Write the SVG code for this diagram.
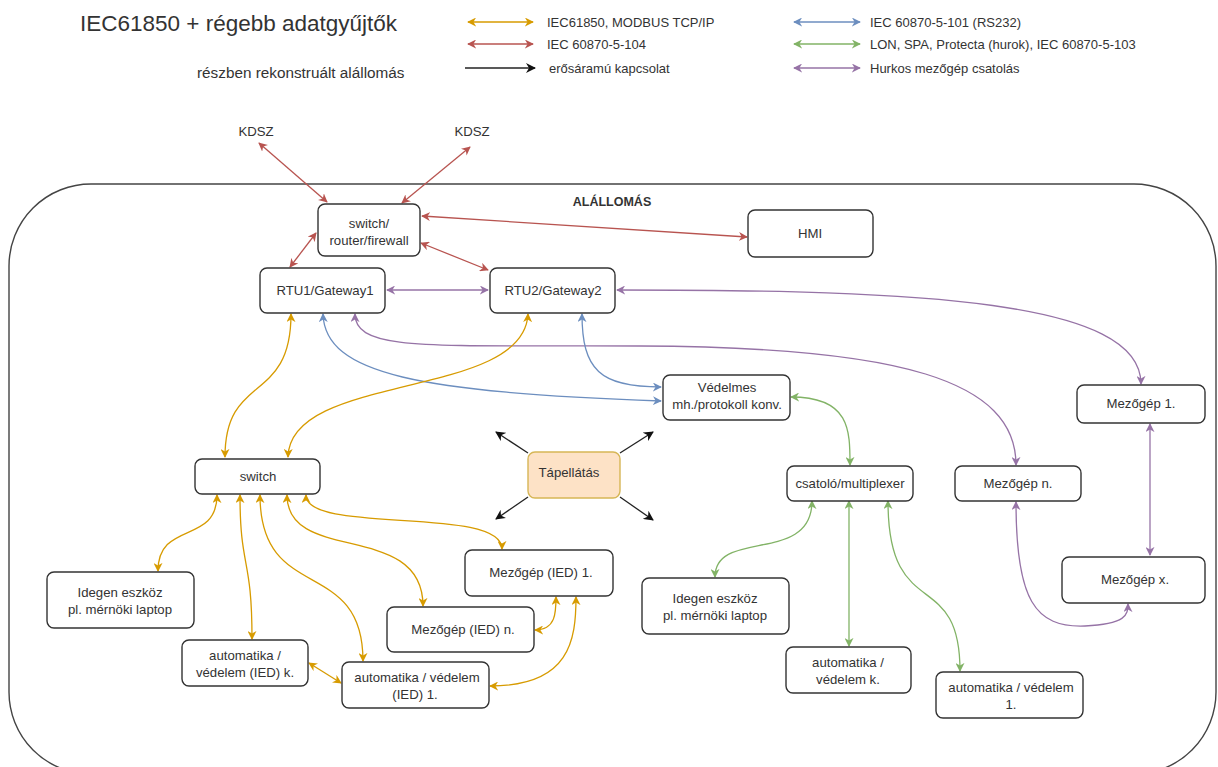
<svg xmlns="http://www.w3.org/2000/svg" width="1218" height="767" viewBox="0 0 1218 767">
  <style>
    .t { font-family: "Liberation Sans", Arial, sans-serif; fill: #333; }
    .lbl { font-size: 13.2px; text-anchor: middle; }
    .leg { font-size: 13px; }
    .box { fill: #fff; stroke: #333; stroke-width: 1.4; }
    .c { fill: none; stroke-width: 1.3; }
    .y { stroke: #d79b00; marker-start: url(#aY); marker-end: url(#aY); }
    .r { stroke: #b85450; marker-start: url(#aR); marker-end: url(#aR); }
    .b { stroke: #6c8ebf; marker-start: url(#aB); marker-end: url(#aB); }
    .g { stroke: #82b366; marker-start: url(#aG); marker-end: url(#aG); }
    .p { stroke: #9673a6; marker-start: url(#aP); marker-end: url(#aP); }
    .k { stroke: #222; marker-end: url(#aK); }
  </style>
  <defs>
    <marker id="aY" viewBox="0 0 10 10" refX="9" refY="5" markerWidth="9" markerHeight="9" markerUnits="userSpaceOnUse" orient="auto-start-reverse"><path d="M0,0 L10,5 L0,10 L3,5 z" fill="#d79b00"/></marker>
    <marker id="aR" viewBox="0 0 10 10" refX="9" refY="5" markerWidth="9" markerHeight="9" markerUnits="userSpaceOnUse" orient="auto-start-reverse"><path d="M0,0 L10,5 L0,10 L3,5 z" fill="#b85450"/></marker>
    <marker id="aB" viewBox="0 0 10 10" refX="9" refY="5" markerWidth="9" markerHeight="9" markerUnits="userSpaceOnUse" orient="auto-start-reverse"><path d="M0,0 L10,5 L0,10 L3,5 z" fill="#6c8ebf"/></marker>
    <marker id="aG" viewBox="0 0 10 10" refX="9" refY="5" markerWidth="9" markerHeight="9" markerUnits="userSpaceOnUse" orient="auto-start-reverse"><path d="M0,0 L10,5 L0,10 L3,5 z" fill="#82b366"/></marker>
    <marker id="aP" viewBox="0 0 10 10" refX="9" refY="5" markerWidth="9" markerHeight="9" markerUnits="userSpaceOnUse" orient="auto-start-reverse"><path d="M0,0 L10,5 L0,10 L3,5 z" fill="#9673a6"/></marker>
    <marker id="aK" viewBox="0 0 10 10" refX="9" refY="5" markerWidth="10" markerHeight="10" markerUnits="userSpaceOnUse" orient="auto-start-reverse"><path d="M0,0 L10,5 L0,10 L3,5 z" fill="#111"/></marker>
  </defs>

  <rect width="1218" height="767" fill="#fff"/>

  <!-- headings -->
  <text class="t" x="80" y="31" font-size="22.5">IEC61850 + régebb adatgyűjtők</text>
  <text class="t" x="197" y="78" font-size="15.3">részben rekonstruált alállomás</text>

  <!-- legend -->
  <g id="legend">
    <line class="c y" x1="468" y1="22" x2="533" y2="22"/>
    <line class="c r" x1="468" y1="44" x2="533" y2="44"/>
    <line class="c k" x1="465" y1="68" x2="535" y2="68"/>
    <text class="t leg" x="547" y="26.5">IEC61850, MODBUS TCP/IP</text>
    <text class="t leg" x="547" y="48.5">IEC 60870-5-104</text>
    <text class="t leg" x="549" y="72.5">erősáramú kapcsolat</text>
    <line class="c b" x1="794" y1="22" x2="860" y2="22"/>
    <line class="c g" x1="794" y1="44" x2="860" y2="44"/>
    <line class="c p" x1="794" y1="68" x2="860" y2="68"/>
    <text class="t leg" x="870" y="26.5">IEC 60870-5-101 (RS232)</text>
    <text class="t leg" x="870" y="48.5">LON, SPA, Protecta (hurok), IEC 60870-5-103</text>
    <text class="t leg" x="870" y="72.5">Hurkos mezőgép csatolás</text>
  </g>

  <!-- substation boundary -->
  <g id="alallomas">
    <rect x="9" y="184" width="1207" height="590" rx="82" ry="82" fill="none" stroke="#444" stroke-width="1.4"/>
    <text class="t" x="612" y="206" font-size="12.5" font-weight="bold" text-anchor="middle">ALÁLLOMÁS</text>
  </g>

  <g id="kdsz1"><text class="t lbl" x="256" y="136" font-size="14.5">KDSZ</text></g>
  <g id="kdsz2"><text class="t lbl" x="472" y="136" font-size="14.5">KDSZ</text></g>

  <!-- connectors -->
  <g id="connectors">
    <!-- IEC 60870-5-104 -->
    <line class="c r" x1="259" y1="143" x2="327" y2="202"/>
    <line class="c r" x1="470" y1="147" x2="402" y2="203"/>
    <line class="c r" x1="422" y1="216" x2="747" y2="237"/>
    <line class="c r" x1="316" y1="233" x2="290" y2="267"/>
    <line class="c r" x1="421" y1="243" x2="488" y2="270"/>

    <!-- hurkos mezőgép csatolás -->
    <line class="c p" x1="387" y1="290" x2="488" y2="290"/>
    <path class="c p" d="M617,290 C920,290 1141,300 1141,384"/>
    <path class="c p" d="M355,314 C355,352 430,345 640,346 C900,347 1016,380 1016,465"/>
    <line class="c p" x1="1150" y1="424" x2="1150" y2="555"/>
    <path class="c p" d="M1016,502 C1016,600 1035,628 1085,626 C1126,624 1128,615 1128,604"/>

    <!-- IEC 60870-5-101 -->
    <path class="c b" d="M323,314 C325,375 420,392 661,401"/>
    <path class="c b" d="M582,314 C582,370 600,387 661,387"/>

    <!-- IEC61850 / MODBUS -->
    <path class="c y" d="M291,314 C291,405 225,372 225,457"/>
    <path class="c y" d="M528,314 C524,400 290,372 288,457"/>
    <path class="c y" d="M217,495 C217,545 158,520 158,571"/>
    <path class="c y" d="M240,495 C240,570 252,555 252,639"/>
    <path class="c y" d="M260,495 C260,605 363,555 363,661"/>
    <path class="c y" d="M287,495 C287,565 423,520 423,606"/>
    <path class="c y" d="M306,495 C306,535 502,505 502,549"/>
    <line class="c y" x1="309" y1="663" x2="341" y2="683"/>
    <path class="c y" d="M535,630 C556,630 556,612 556,597"/>
    <path class="c y" d="M490,686 C570,686 576,640 576,597"/>

    <!-- LON, SPA, Protecta, 103 -->
    <path class="c g" d="M791,397 C850,397 850,430 850,465"/>
    <path class="c g" d="M812,501 C812,565 715,528 715,577"/>
    <line class="c g" x1="849" y1="501" x2="849" y2="646"/>
    <path class="c g" d="M888,501 C888,625 960,565 960,671"/>

    <!-- power supply -->
    <line class="c k" x1="528" y1="453" x2="496" y2="432"/>
    <line class="c k" x1="620" y1="453" x2="653" y2="432"/>
    <line class="c k" x1="528" y1="497" x2="496" y2="519"/>
    <line class="c k" x1="620" y1="497" x2="653" y2="520"/>
  </g>

  <!-- nodes -->
  <g id="switch-router">
    <rect class="box" x="318" y="204" width="102" height="52" rx="7"/>
    <text class="t lbl" x="369" y="228">switch/</text>
    <text class="t lbl" x="369" y="245">router/firewall</text>
  </g>
  <g id="hmi">
    <rect class="box" x="748" y="210" width="125" height="47" rx="7"/>
    <text class="t lbl" x="810" y="238">HMI</text>
  </g>
  <g id="rtu1">
    <rect class="box" x="260" y="268" width="125" height="45" rx="7"/>
    <text class="t lbl" x="325" y="295">RTU1/Gateway1</text>
  </g>
  <g id="rtu2">
    <rect class="box" x="490" y="268" width="125" height="45" rx="7"/>
    <text class="t lbl" x="553" y="295">RTU2/Gateway2</text>
  </g>
  <g id="vedelmes">
    <rect class="box" x="663" y="375" width="127" height="45" rx="7"/>
    <text class="t lbl" x="727" y="392">Védelmes</text>
    <text class="t lbl" x="727" y="409">mh./protokoll konv.</text>
  </g>
  <g id="mezogep1">
    <rect class="box" x="1077" y="385" width="128" height="38" rx="7"/>
    <text class="t lbl" x="1141" y="408">Mezőgép 1.</text>
  </g>
  <g id="switch">
    <rect class="box" x="195" y="459" width="125" height="35" rx="7"/>
    <text class="t lbl" x="258" y="481">switch</text>
  </g>
  <g id="tapellatas">
    <rect x="528" y="452" width="92" height="46" rx="7" fill="#fde2c6" stroke="#d6b656" stroke-width="1.4"/>
    <text class="t lbl" x="569" y="477">Tápellátás</text>
  </g>
  <g id="csatolo">
    <rect class="box" x="787" y="466" width="126" height="35" rx="7"/>
    <text class="t lbl" x="850" y="488">csatoló/multiplexer</text>
  </g>
  <g id="mezogepn">
    <rect class="box" x="955" y="466" width="126" height="35" rx="7"/>
    <text class="t lbl" x="1018" y="488">Mezőgép n.</text>
  </g>
  <g id="mezogepx">
    <rect class="box" x="1062" y="557" width="143" height="46" rx="7"/>
    <text class="t lbl" x="1135" y="584">Mezőgép x.</text>
  </g>
  <g id="mezogep-ied1">
    <rect class="box" x="465" y="550" width="148" height="46" rx="7"/>
    <text class="t lbl" x="541" y="577">Mezőgép (IED) 1.</text>
  </g>
  <g id="mezogep-iedn">
    <rect class="box" x="387" y="607" width="147" height="45" rx="7"/>
    <text class="t lbl" x="463" y="634">Mezőgép (IED) n.</text>
  </g>
  <g id="idegen1">
    <rect class="box" x="47" y="572" width="147" height="56" rx="7"/>
    <text class="t lbl" x="120" y="597">Idegen eszköz</text>
    <text class="t lbl" x="120" y="614">pl. mérnöki laptop</text>
  </g>
  <g id="auto-iedk">
    <rect class="box" x="182" y="640" width="126" height="46" rx="7"/>
    <text class="t lbl" x="245" y="660">automatika /</text>
    <text class="t lbl" x="245" y="677">védelem (IED) k.</text>
  </g>
  <g id="auto-ied1">
    <rect class="box" x="342" y="662" width="147" height="46" rx="7"/>
    <text class="t lbl" x="417" y="682">automatika / védelem</text>
    <text class="t lbl" x="415" y="699">(IED) 1.</text>
  </g>
  <g id="idegen2">
    <rect class="box" x="642" y="578" width="147" height="56" rx="7"/>
    <text class="t lbl" x="715" y="603">Idegen eszköz</text>
    <text class="t lbl" x="715" y="620">pl. mérnöki laptop</text>
  </g>
  <g id="auto-k">
    <rect class="box" x="786" y="647" width="125" height="46" rx="7"/>
    <text class="t lbl" x="848" y="667">automatika /</text>
    <text class="t lbl" x="848" y="684">védelem k.</text>
  </g>
  <g id="auto-1">
    <rect class="box" x="936" y="672" width="147" height="46" rx="7"/>
    <text class="t lbl" x="1011" y="692">automatika / védelem</text>
    <text class="t lbl" x="1011" y="709">1.</text>
  </g>
</svg>
